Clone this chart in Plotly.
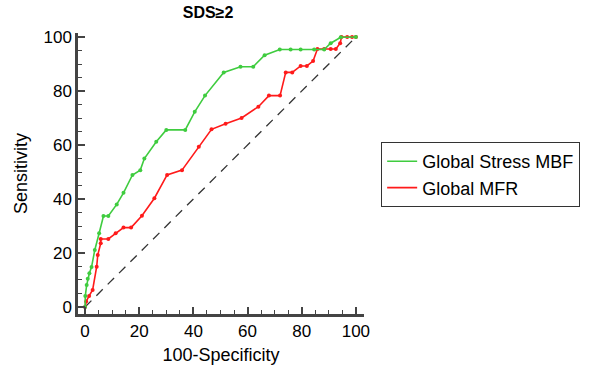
import plotly.graph_objects as go

# Global Stress MBF ROC points (100-Specificity, Sensitivity)
mbf_x = [0, 0.1, 0.6, 1.0, 1.6, 2.4, 3.6, 5.2, 6.8, 8.6, 11.7, 14.2, 17.5, 20.4, 21.9,
         26.3, 30.0, 37.0, 40.5, 44.3, 51.2, 57.4, 62.1, 66.3, 71.9, 75.9, 79.6, 84.6,
         88.3, 90.7, 94.4, 100]
mbf_y = [0, 4.1, 8.1, 10.5, 12.5, 14.8, 21.1, 27.3, 33.7, 33.7, 38.0, 42.3, 48.9, 50.7, 55.0,
         61.2, 65.6, 65.6, 72.3, 78.3, 86.9, 89.0, 89.0, 93.3, 95.4, 95.4, 95.4, 95.4,
         95.4, 97.7, 99.9, 100]

# Global MFR ROC points
mfr_x = [0, 0.4, 1.5, 2.8, 4.3, 4.7, 5.8, 5.8, 8.6, 11.3, 14.2, 17.0, 21.0, 25.6, 30.3,
         35.8, 42.0, 46.7, 51.9, 57.8, 64.0, 67.9, 72.0, 74.1, 76.5, 79.6, 81.9, 84.2,
         85.8, 88.3, 90.7, 92.6, 94.2, 94.7, 96.8, 98.6, 100]
mfr_y = [0, 2.0, 4.1, 6.3, 14.9, 19.3, 23.6, 25.2, 25.2, 27.3, 29.4, 29.4, 33.8, 40.3, 48.9,
         50.7, 59.4, 65.8, 67.9, 70.0, 74.2, 78.3, 78.3, 86.9, 86.9, 89.3, 89.3, 91.1,
         95.6, 95.6, 95.6, 95.6, 97.7, 100, 100, 100, 100]

diag = [0, 100]

x_ticks = [0, 20, 40, 60, 80, 100]
y_ticks = [0, 20, 40, 60, 80, 100]

GREEN = "#3fcc3f"
RED = "#ff1a1a"
FONT = "Liberation Sans, Arial, sans-serif"

fig = go.Figure()
fig.add_trace(go.Scatter(x=diag, y=diag, mode="lines", showlegend=False,
                         line=dict(color="#333333", width=1.3, dash="9px,7px"),
                         hoverinfo="skip"))
fig.add_trace(go.Scatter(x=mfr_x, y=mfr_y, mode="lines+markers", showlegend=False,
                         line=dict(color=RED, width=1.6),
                         marker=dict(color=RED, size=4)))
fig.add_trace(go.Scatter(x=mbf_x, y=mbf_y, mode="lines+markers", showlegend=False,
                         line=dict(color=GREEN, width=1.6),
                         marker=dict(color=GREEN, size=4)))
# legend entries (lines only)
fig.add_trace(go.Scatter(x=[None], y=[None], mode="lines", name="Global Stress MBF",
                         line=dict(color=GREEN, width=1.6)))
fig.add_trace(go.Scatter(x=[None], y=[None], mode="lines", name="Global MFR",
                         line=dict(color=RED, width=1.6)))

axis_common = dict(showgrid=False, zeroline=False, showline=True,
                   linecolor="#444444", linewidth=2.5, ticks="inside",
                   ticklen=7, tickwidth=1.5, tickcolor="#444444",
                   tickfont=dict(size=17, color="black", family=FONT),
                   minor=dict(ticks="inside", ticklen=4, tickwidth=1.2,
                              tickcolor="#444444", dtick=5, tick0=0),
                   mirror=False, automargin=False)

fig.update_layout(
    width=595, height=370,
    margin=dict(l=78, r=231, t=33, b=56),
    paper_bgcolor="white", plot_bgcolor="white",
    font=dict(family=FONT, color="black"),
    title=dict(text="<b>SDS≥2</b>", x=(208 / 595), xanchor="center",
               y=(370 - 12) / 370, yanchor="middle", font=dict(size=16, family=FONT),
               automargin=False),
    xaxis=dict(range=[-2.6, 103], tickvals=x_ticks,
               title=dict(text="100-Specificity", font=dict(size=18), standoff=9),
               **axis_common),
    yaxis=dict(range=[-2.6, 101.5], tickvals=y_ticks,
               title=dict(text="Sensitivity", font=dict(size=18), standoff=12),
               **axis_common),
    legend=dict(x=1.06, y=0.612, xanchor="left", yanchor="top",
                bordercolor="#333333", borderwidth=1, bgcolor="white",
                font=dict(size=18, family=FONT), tracegroupgap=0,
                itemwidth=30),
    showlegend=True,
)

fig.write_html("out.html", config={"displayModeBar": False},
               post_script="document.body.style.margin='0px';document.body.style.padding='0px';")
